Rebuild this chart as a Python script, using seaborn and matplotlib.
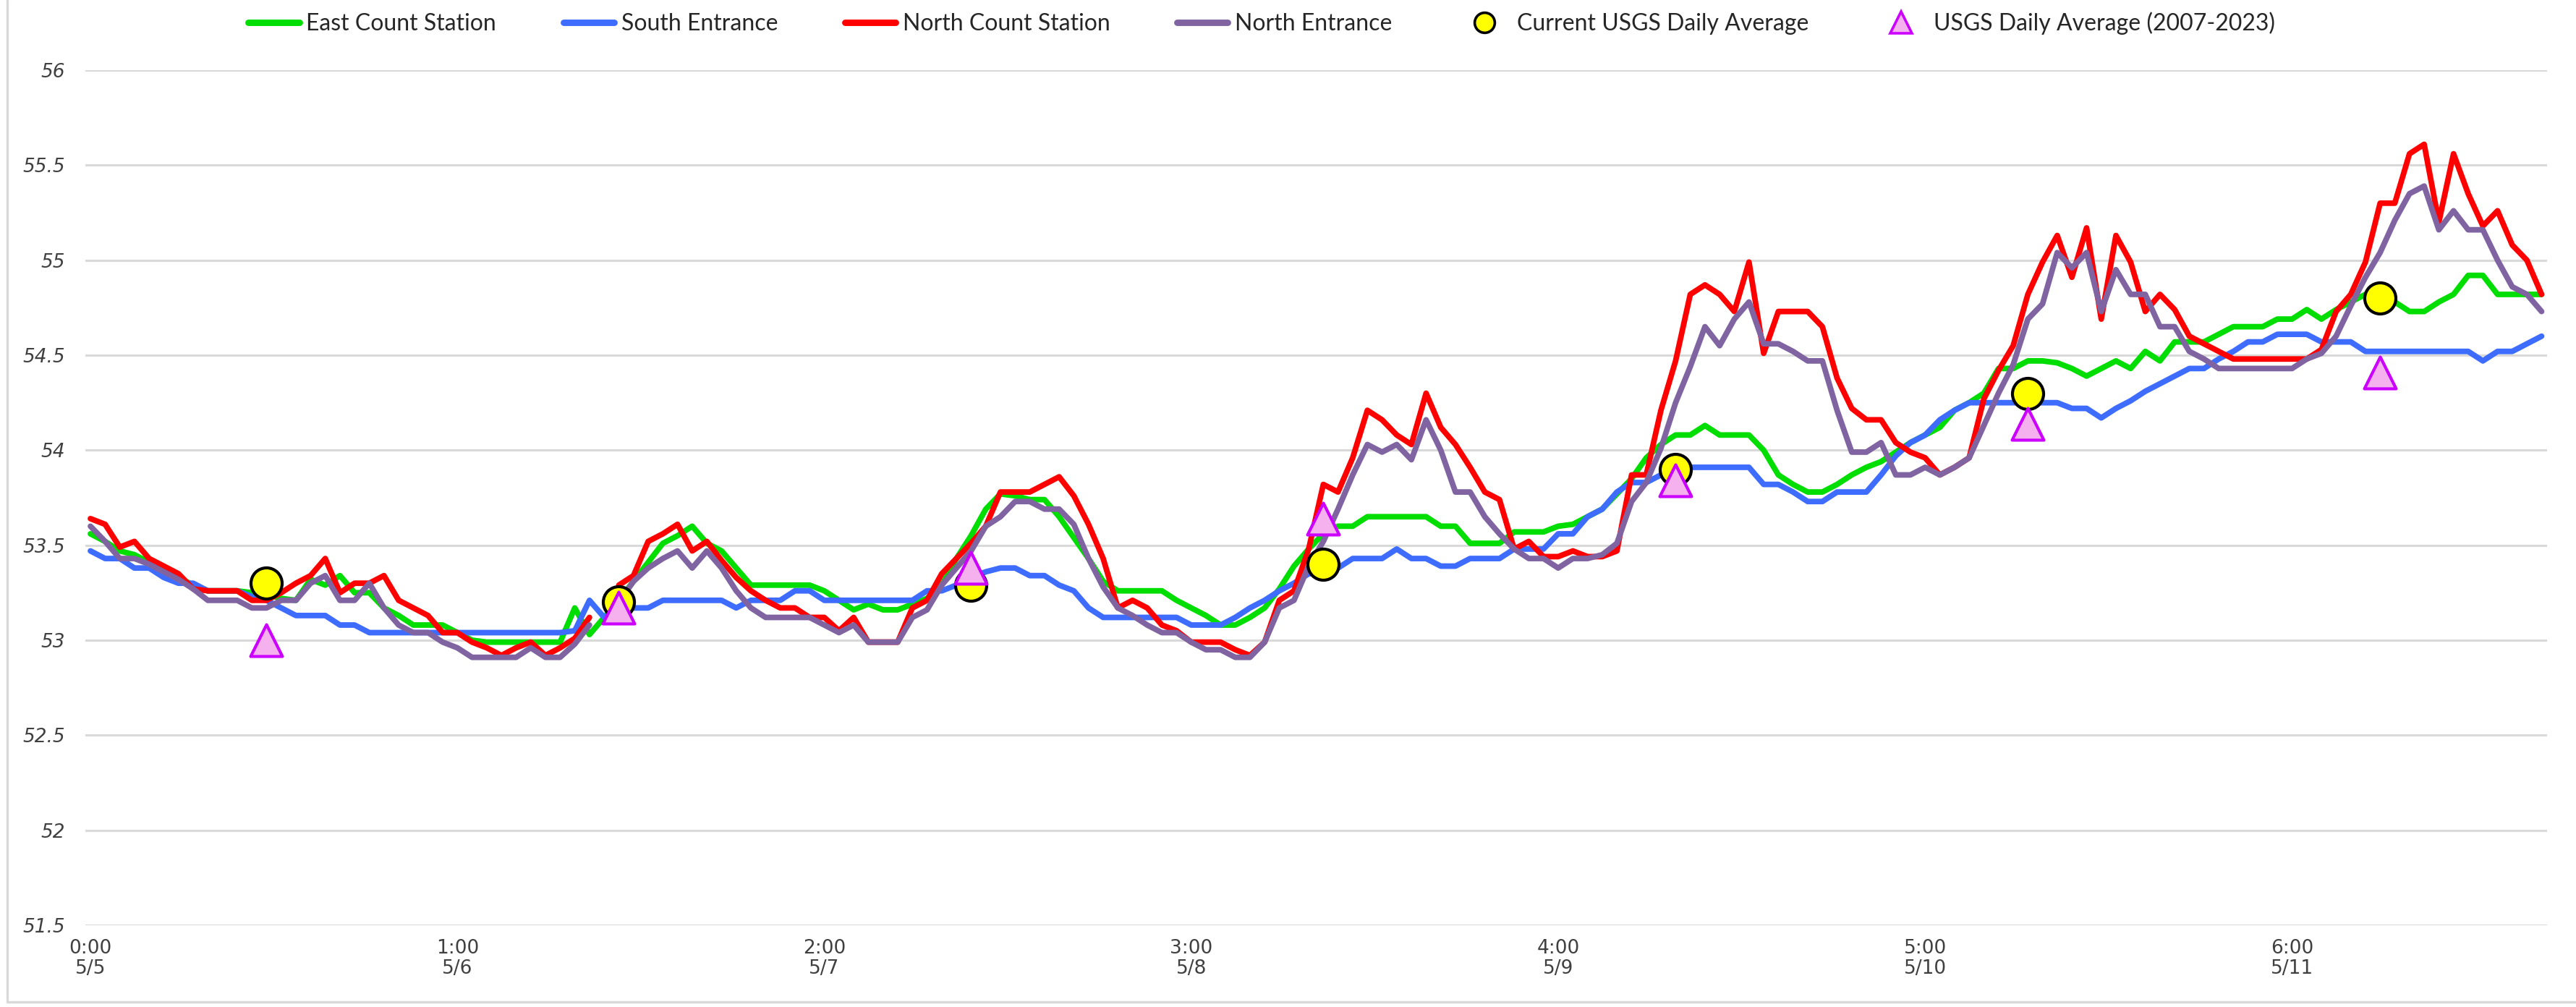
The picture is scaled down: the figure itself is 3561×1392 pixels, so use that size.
import numpy as np
import pandas as pd
import matplotlib
matplotlib.use("Agg")
import matplotlib.pyplot as plt
import seaborn as sns
from matplotlib.lines import Line2D

# ---------------- data (hourly, 5/5 0:00 -> 5/11 23:00) ----------------
hours = list(range(168))
tick_positions = [0, 25, 50, 75, 100, 125, 150]
tick_labels = ["0:00\n5/5", "1:00\n5/6", "2:00\n5/7", "3:00\n5/8",
               "4:00\n5/9", "5:00\n5/10", "6:00\n5/11"]

east_count = [
    53.56, 53.52, 53.47, 53.45, 53.41, 53.37, 53.33, 53.29, 53.26, 53.26,
    53.26, 53.25, 53.24, 53.22, 53.21, 53.32, 53.29, 53.34, 53.25, 53.25,
    53.17, 53.13, 53.08, 53.08, 53.08, 53.04, 53.00, 52.99, 52.99, 52.99,
    52.99, 52.99, 52.99, 53.17, 53.03, 53.12, 53.21, 53.31, 53.41, 53.51,
    53.55, 53.60, 53.51, 53.47, 53.38, 53.29, 53.29, 53.29, 53.29, 53.29,
    53.26, 53.21, 53.16, 53.19, 53.16, 53.16, 53.19, 53.22, 53.29, 53.43,
    53.55, 53.69, 53.77, 53.76, 53.74, 53.74, 53.65, 53.54, 53.43, 53.31,
    53.26, 53.26, 53.26, 53.26, 53.21, 53.17, 53.13, 53.08, 53.08, 53.12,
    53.17, 53.27, 53.39, 53.48, 53.56, 53.60, 53.60, 53.65, 53.65, 53.65,
    53.65, 53.65, 53.60, 53.60, 53.51, 53.51, 53.51, 53.57, 53.57, 53.57,
    53.60, 53.61, 53.65, 53.69, 53.77, 53.85, 53.96, 54.03, 54.08, 54.08,
    54.13, 54.08, 54.08, 54.08, 54.00, 53.87, 53.82, 53.78, 53.78, 53.82,
    53.87, 53.91, 53.94, 53.99, 54.04, 54.08, 54.12, 54.21, 54.25, 54.30,
    54.43, 54.43, 54.47, 54.47, 54.46, 54.43, 54.39, 54.43, 54.47, 54.43,
    54.52, 54.47, 54.57, 54.57, 54.57, 54.61, 54.65, 54.65, 54.65, 54.69,
    54.69, 54.74, 54.69, 54.74, 54.78, 54.82, 54.82, 54.78, 54.73, 54.73,
    54.78, 54.82, 54.92, 54.92, 54.82, 54.82, 54.82, 54.82,
]

south_entrance = [
    53.47, 53.43, 53.43, 53.38, 53.38, 53.33, 53.30, 53.30, 53.26, 53.26,
    53.26, 53.23, 53.21, 53.17, 53.13, 53.13, 53.13, 53.08, 53.08, 53.04,
    53.04, 53.04, 53.04, 53.04, 53.04, 53.04, 53.04, 53.04, 53.04, 53.04,
    53.04, 53.04, 53.04, 53.05, 53.21, 53.12, 53.17, 53.17, 53.17, 53.21,
    53.21, 53.21, 53.21, 53.21, 53.17, 53.21, 53.21, 53.21, 53.26, 53.26,
    53.21, 53.21, 53.21, 53.21, 53.21, 53.21, 53.21, 53.26, 53.26, 53.29,
    53.33, 53.36, 53.38, 53.38, 53.34, 53.34, 53.29, 53.26, 53.17, 53.12,
    53.12, 53.12, 53.12, 53.12, 53.12, 53.08, 53.08, 53.08, 53.12, 53.17,
    53.21, 53.26, 53.30, 53.35, 53.35, 53.38, 53.43, 53.43, 53.43, 53.48,
    53.43, 53.43, 53.39, 53.39, 53.43, 53.43, 53.43, 53.48, 53.48, 53.48,
    53.56, 53.56, 53.65, 53.69, 53.78, 53.83, 53.83, 53.87, 53.91, 53.91,
    53.91, 53.91, 53.91, 53.91, 53.82, 53.82, 53.78, 53.73, 53.73, 53.78,
    53.78, 53.78, 53.87, 53.97, 54.04, 54.08, 54.16, 54.21, 54.25, 54.25,
    54.25, 54.25, 54.25, 54.25, 54.25, 54.22, 54.22, 54.17, 54.22, 54.26,
    54.31, 54.35, 54.39, 54.43, 54.43, 54.48, 54.52, 54.57, 54.57, 54.61,
    54.61, 54.61, 54.57, 54.57, 54.57, 54.52, 54.52, 54.52, 54.52, 54.52,
    54.52, 54.52, 54.52, 54.47, 54.52, 54.52, 54.56, 54.60,
]

north_count = [
    53.64, 53.61, 53.49, 53.52, 53.43, 53.39, 53.35, 53.27, 53.26, 53.26,
    53.26, 53.21, 53.21, 53.25, 53.30, 53.34, 53.43, 53.25, 53.30, 53.30,
    53.34, 53.21, 53.17, 53.13, 53.04, 53.04, 52.99, 52.96, 52.92, 52.96,
    52.99, 52.92, 52.96, 53.01, 53.12, np.nan, 53.29, 53.34, 53.52, 53.56,
    53.61, 53.47, 53.52, 53.42, 53.33, 53.26, 53.21, 53.17, 53.17, 53.12,
    53.12, 53.05, 53.12, 52.99, 52.99, 52.99, 53.17, 53.21, 53.35, 53.43,
    53.51, 53.60, 53.78, 53.78, 53.78, 53.82, 53.86, 53.76, 53.61, 53.43,
    53.17, 53.21, 53.17, 53.08, 53.05, 52.99, 52.99, 52.99, 52.95, 52.92,
    52.99, 53.21, 53.26, 53.48, 53.82, 53.78, 53.96, 54.21, 54.16, 54.08,
    54.03, 54.30, 54.12, 54.03, 53.91, 53.78, 53.74, 53.48, 53.52, 53.44,
    53.44, 53.47, 53.44, 53.44, 53.47, 53.87, 53.87, 54.21, 54.47, 54.82,
    54.87, 54.82, 54.73, 54.99, 54.51, 54.73, 54.73, 54.73, 54.65, 54.38,
    54.22, 54.16, 54.16, 54.04, 53.99, 53.96, 53.87, 53.91, 53.96, 54.27,
    54.42, 54.55, 54.82, 54.99, 55.13, 54.91, 55.17, 54.69, 55.13, 54.99,
    54.73, 54.82, 54.74, 54.60, 54.56, 54.52, 54.48, 54.48, 54.48, 54.48,
    54.48, 54.48, 54.53, 54.73, 54.82, 54.99, 55.30, 55.30, 55.56, 55.61,
    55.20, 55.56, 55.35, 55.18, 55.26, 55.08, 55.00, 54.82,
]

north_entrance = [
    53.60, 53.52, 53.43, 53.43, 53.40, 53.36, 53.32, 53.27, 53.21, 53.21,
    53.21, 53.17, 53.17, 53.21, 53.21, 53.30, 53.34, 53.21, 53.21, 53.30,
    53.17, 53.08, 53.04, 53.04, 52.99, 52.96, 52.91, 52.91, 52.91, 52.91,
    52.96, 52.91, 52.91, 52.98, 53.08, np.nan, 53.20, 53.31, 53.38, 53.43,
    53.47, 53.38, 53.47, 53.38, 53.26, 53.17, 53.12, 53.12, 53.12, 53.12,
    53.08, 53.04, 53.08, 52.99, 52.99, 52.99, 53.12, 53.16, 53.29, 53.38,
    53.47, 53.60, 53.65, 53.73, 53.73, 53.69, 53.69, 53.61, 53.43, 53.28,
    53.17, 53.13, 53.08, 53.04, 53.04, 52.99, 52.95, 52.95, 52.91, 52.91,
    52.99, 53.17, 53.21, 53.39, 53.52, 53.69, 53.87, 54.03, 53.99, 54.03,
    53.95, 54.16, 54.00, 53.78, 53.78, 53.65, 53.56, 53.48, 53.43, 53.43,
    53.38, 53.43, 53.43, 53.45, 53.51, 53.73, 53.83, 54.01, 54.25, 54.44,
    54.65, 54.55, 54.69, 54.78, 54.56, 54.56, 54.52, 54.47, 54.47, 54.21,
    53.99, 53.99, 54.04, 53.87, 53.87, 53.91, 53.87, 53.91, 53.96, 54.13,
    54.30, 54.45, 54.69, 54.77, 55.04, 54.96, 55.04, 54.73, 54.95, 54.82,
    54.82, 54.65, 54.65, 54.52, 54.48, 54.43, 54.43, 54.43, 54.43, 54.43,
    54.43, 54.48, 54.51, 54.60, 54.76, 54.91, 55.04, 55.21, 55.35, 55.39,
    55.16, 55.26, 55.16, 55.16, 55.00, 54.86, 54.82, 54.73,
]

marker_hours = [12, 36, 60, 84, 108, 132, 156]
usgs_current = [53.30, 53.20, 53.29, 53.40, 53.90, 54.30, 54.80]
usgs_2007_2023 = [53.00, 53.17, 53.38, 53.64, 53.84, 54.14, 54.41]

series_names = ["East Count Station", "South Entrance", "North Count Station", "North Entrance"]
series_values = [east_count, south_entrance, north_count, north_entrance]
series_colors = ["#00DD00", "#3D6CFF", "#FF0000", "#8064A2"]

# ---------------- figure ----------------
sns.set_theme(style="white")
plt.rcParams["font.family"] = ["DejaVu Sans"]

W, H, DPI = 3561, 1392, 200
fig = plt.figure(figsize=(W / DPI, H / DPI), dpi=DPI)
fig.patch.set_facecolor("white")

step = 20.29
x0_px = 125
pad_idx = 0.35
left_px = x0_px - pad_idx * step
right_px = x0_px + (167 + pad_idx) * step
top_px, bot_px = 97, 1279
ax = fig.add_axes([left_px / W, 1 - bot_px / H, (right_px - left_px) / W, (bot_px - top_px) / H])

LW = 2.8
for name, vals, col in zip(series_names, series_values, series_colors):
    v = pd.Series(vals, dtype=float)
    df = pd.DataFrame({"hour": hours, "value": v, "seg": v.isna().cumsum()}).dropna()
    sns.lineplot(data=df, x="hour", y="value", units="seg", estimator=None,
                 color=col, linewidth=LW, ax=ax, legend=False,
                 solid_joinstyle="round", solid_capstyle="round", zorder=3)

circle_kw = dict(marker="o", s=240, color="#FFFF00", edgecolor="black", linewidth=1.5, zorder=5)
tri_kw = dict(marker="^", s=250, color="#F4B1EE", edgecolor="#CC00FF", linewidth=1.5, zorder=6)
sns.scatterplot(x=marker_hours, y=usgs_current, ax=ax, legend=False, **circle_kw)
sns.scatterplot(x=marker_hours, y=usgs_2007_2023, ax=ax, legend=False, **tri_kw)

ax.set_xlim(-pad_idx, 167 + pad_idx)
ax.set_ylim(51.5, 56)
ax.set_yticks(np.arange(51.5, 56.01, 0.5))
ax.set_yticklabels([f"{t:g}" for t in np.arange(51.5, 56.01, 0.5)],
                   fontsize=9.5, style="italic", color="#404040")
ax.set_xticks(tick_positions)
ax.set_xticklabels(tick_labels, fontsize=9.5, color="#404040")
for lab in ax.get_xticklabels():
    lab.set_linespacing(1.1)
ax.tick_params(axis="y", length=0, pad=10)
ax.tick_params(axis="x", length=0, pad=7)
ax.set_xlabel("")
ax.set_ylabel("")
for s in ax.spines.values():
    s.set_visible(False)
ax.yaxis.grid(True, color="#D9D9D9", linewidth=1.1)
ax.xaxis.grid(False)
ax.set_axisbelow(True)

# legend
handles = [Line2D([], [], color=c, lw=3.2) for c in series_colors]
handles.append(Line2D([], [], ls="", marker="o", markersize=10, markerfacecolor="#FFFF00",
                      markeredgecolor="black", markeredgewidth=1.3))
handles.append(Line2D([], [], ls="", marker="^", markersize=11, markerfacecolor="#F4B1EE",
                      markeredgecolor="#CC00FF", markeredgewidth=1.3))
labels = series_names + ["Current USGS Daily Average", "USGS Daily Average (2007-2023)"]
fig.legend(handles, labels, loc="center", bbox_to_anchor=(1744 / W, 1 - 32 / H), ncol=6,
           frameon=False, handlelength=2.2, handletextpad=0.3, columnspacing=2.9,
           prop={"family": ["Lato", "DejaVu Sans"], "size": 11.5})

# chart border (left & bottom visible)
fig.add_artist(Line2D([10 / W, 10 / W], [7 / H, 1.0], transform=fig.transFigure, color="#D9D9D9", lw=1.2))
fig.add_artist(Line2D([10 / W, 1.0], [7 / H, 7 / H], transform=fig.transFigure, color="#D9D9D9", lw=1.2))

fig.savefig("out.png", dpi=DPI, facecolor="white")
